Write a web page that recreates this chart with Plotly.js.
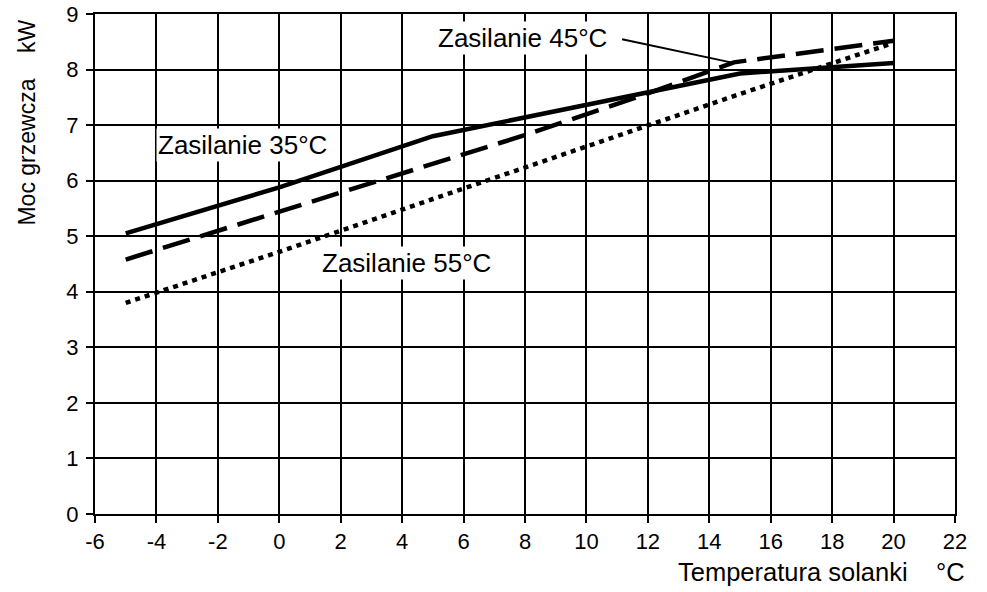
<!DOCTYPE html>
<html>
<head>
<meta charset="utf-8">
<script src="https://cdn.plot.ly/plotly-3.0.1.min.js"></script>
<style>html,body{margin:0;padding:0;background:#fff;}#chart{width:987px;height:592px;}</style>
</head>
<body>
<div id="chart"></div>
<script>
// Temperatura solanki (°C)
const temps = [-5, 0, 5, 10, 15, 20];
// Moc grzewcza (kW)
const zas35 = [5.05, 5.88, 6.8, 7.36, 7.93, 8.12];
const zas45x = [-5, 0, 4, 8, 12, 14.8, 20];
const zas45 = [4.58, 5.44, 6.12, 6.82, 7.57, 8.13, 8.52];
const zas55 = [3.8, 4.72, 5.67, 6.62, 7.56, 8.48];
const xTicks = [-6, -4, -2, 0, 2, 4, 6, 8, 10, 12, 14, 16, 18, 20, 22];
const yTicks = [0, 1, 2, 3, 4, 5, 6, 7, 8, 9];
const labels = ["Zasilanie 35°C", "Zasilanie 45°C", "Zasilanie 55°C"];

const FONT = "Liberation Sans, Arial, sans-serif";

const traces = [
  {x: temps, y: zas35, mode: "lines", name: labels[0], line: {color: "#000", width: 4.5}},
  {x: zas45x, y: zas45, mode: "lines", name: labels[1], line: {color: "#000", width: 4.5, dash: "28px,11px"}},
  {x: temps, y: zas55, mode: "lines", name: labels[2], line: {color: "#000", width: 4.5, dash: "5px,5px"}}
];

const axBase = {
  showgrid: true, gridcolor: "#000", gridwidth: 2,
  showline: true, linecolor: "#000", linewidth: 2,
  zeroline: false, ticks: "outside", ticklen: 7, tickwidth: 2, tickcolor: "#000",
  tickfont: {family: FONT, size: 22, color: "#000"},
  fixedrange: true
};

const layout = {
  width: 987, height: 592,
  margin: {l: 95, r: 32, t: 14, b: 78},
  paper_bgcolor: "#fff", plot_bgcolor: "#fff",
  showlegend: false,
  font: {family: FONT, color: "#000"},
  xaxis: Object.assign({}, axBase, {range: [-6, 22], tickmode: "array", tickvals: xTicks, ticktext: xTicks.map(String), mirror: true}),
  yaxis: Object.assign({}, axBase, {range: [0, 9], tickmode: "array", tickvals: yTicks, ticktext: yTicks.map(String), mirror: true, ticklabelstandoff: 3}),
  xaxis2: {overlaying: "x", anchor: "y", side: "top", range: [-6, 22], tickmode: "array", tickvals: xTicks, showticklabels: false, showgrid: false, zeroline: false, showline: false, ticks: "outside", ticklen: 2, tickwidth: 2, tickcolor: "#000", fixedrange: true},
  yaxis2: {overlaying: "y", anchor: "x", side: "right", range: [0, 9], tickmode: "array", tickvals: yTicks, showticklabels: false, showgrid: false, zeroline: false, showline: false, ticks: "outside", ticklen: 4, tickwidth: 2, tickcolor: "#000", fixedrange: true},
  shapes: [
    {type: "line", xref: "x", yref: "y", x0: 11.16, y0: 8.545, x1: 14.78, y1: 8.12, line: {color: "#000", width: 2}}
  ],
  annotations: [
    {x: -1.2, y: 6.65, xref: "x", yref: "y", text: labels[0], showarrow: false, bgcolor: "#fff", borderpad: 1, font: {family: FONT, size: 26, color: "#000"}},
    {x: 7.91, y: 8.57, xref: "x", yref: "y", text: labels[1], showarrow: false, bgcolor: "#fff", borderpad: 1, font: {family: FONT, size: 26, color: "#000"}},
    {x: 4.14, y: 4.52, xref: "x", yref: "y", text: labels[2], showarrow: false, bgcolor: "#fff", borderpad: 1, font: {family: FONT, size: 26, color: "#000"}},
    {x: 1.0136, y: -0.115, xref: "paper", yref: "paper", xanchor: "right", yanchor: "middle", text: "Temperatura solanki\u00a0\u00a0\u00a0\u00a0°C", showarrow: false, font: {family: FONT, size: 25.5, color: "#000"}},
    {x: -0.079, y: 0.783, xref: "paper", yref: "paper", xanchor: "center", yanchor: "middle", textangle: -90, text: "Moc grzewcza\u00a0\u00a0\u00a0\u00a0kW", showarrow: false, font: {family: FONT, size: 23, color: "#000"}}
  ]
};

Plotly.newPlot("chart", traces, layout, {displayModeBar: false, staticPlot: true});
</script>
</body>
</html>
